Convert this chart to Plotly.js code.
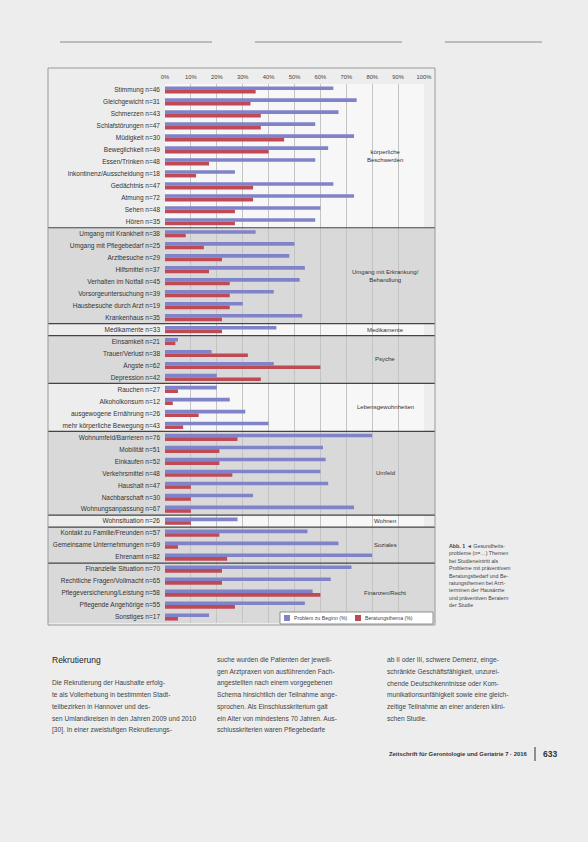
<!DOCTYPE html>
<html><head><meta charset="utf-8">
<script src="https://cdn.plot.ly/plotly-3.0.1.min.js"></script>
<style>html,body{margin:0;padding:0;background:#ededed;}#c{width:588px;height:842px;}</style>
</head><body><div id="c"></div>
<script>
// ---- data ----
const categories = [
 "Stimmung n=46","Gleichgewicht n=31","Schmerzen n=43","Schlafstörungen n=47","Müdigkeit n=30",
 "Beweglichkeit n=49","Essen/Trinken n=48","Inkontinenz/Ausscheidung n=18","Gedächtnis n=47","Atmung n=72",
 "Sehen n=48","Hören n=35",
 "Umgang mit Krankheit n=38","Umgang mit Pflegebedarf n=25","Arztbesuche n=29","Hilfsmittel n=37",
 "Verhalten im Notfall n=45","Vorsorgeuntersuchung n=39","Hausbesuche durch Arzt n=19","Krankenhaus n=35",
 "Medikamente n=33",
 "Einsamkeit n=21","Trauer/Verlust n=38","Ängste n=62","Depression n=42",
 "Rauchen n=27","Alkoholkonsum n=12","ausgewogene Ernährung n=26","mehr körperliche Bewegung n=43",
 "Wohnumfeld/Barrieren n=76","Mobilität n=51","Einkaufen n=52","Verkehrsmittel n=48","Haushalt n=47",
 "Nachbarschaft n=30","Wohnungsanpassung n=67",
 "Wohnsituation n=26",
 "Kontakt zu Familie/Freunden n=57","Gemeinsame Unternehmungen n=69","Ehrenamt n=82",
 "Finanzielle Situation n=70","Rechtliche Fragen/Vollmacht n=65","Pflegeversicherung/Leistung n=58",
 "Pflegende Angehörige n=55","Sonstiges n=17"
];
const problemPct = [65,74,67,58,73,63,58,27,65,73,60,58,
 35,50,48,54,52,42,30,53,
 43,
 5,18,42,20,
 20,25,31,40,
 80,61,62,60,63,34,73,
 28,
 55,67,80,
 72,64,57,54,17];
const beratungPct = [35,33,37,37,46,40,17,12,34,34,27,27,
 8,15,22,17,25,25,25,22,
 22,
 4,32,60,37,
 5,3,13,7,
 28,21,21,26,10,10,10,
 10,
 21,5,24,
 22,22,60,27,5];
const groupNames = ["körperliche<br>Beschwerden","Umgang mit Erkrankung/<br>Behandlung","Medikamente","Psyche",
 "Lebensgewohnheiten","Umfeld","Wohnen","Soziales","Finanzen/Recht"];
const groupSizes = [12,8,1,4,4,7,1,3,5];
const seriesNames = ["Problem zu Beginn (%)","Beratungsthema (%)"];
const xTickVals = [0,10,20,30,40,50,60,70,80,90,100];
const xTickText = ["0%","10%","20%","30%","40%","50%","60%","70%","80%","90%","100%"];

// ---- style ----
const shaded = [false,true,false,true,false,true,false,true,true];
const blue = "#8083c8", red = "#bf4a56";
const PL=165, PR=424, PT=84, PB=623;
const PX = x => (x-PL)/(PR-PL);
const PY = y => (PB-y)/(PB-PT);
const boxL = PX(48), boxR = PX(435);
const FONT = "Liberation Sans";

const traces = [
 {type:"bar",orientation:"h",name:seriesNames[0],y:categories,x:problemPct,marker:{color:blue},showlegend:false},
 {type:"bar",orientation:"h",name:seriesNames[1],y:categories,x:beratungPct,marker:{color:red},showlegend:false}
];

const shapes = [], annotations = [];
let s = 0;
groupSizes.forEach((n,g)=>{
  if (shaded[g]) shapes.push({type:"rect",xref:"paper",yref:"y",x0:boxL,x1:boxR,y0:s-0.5,y1:s+n-0.5,
     fillcolor:"#d9d9d9",line:{width:0},layer:"below"});
  if (s>0) shapes.push({type:"line",xref:"paper",yref:"y",x0:boxL,x1:boxR,y0:s-0.5,y1:s-0.5,
     line:{color:"#444",width:1.2},layer:"above"});
  annotations.push({xref:"x",yref:"y",x:85,y:s+(n-1)/2,text:groupNames[g],showarrow:false,
     font:{size:6,color:"#333",family:FONT},align:"center"});
  s += n;
});
// outer box
shapes.push({type:"rect",xref:"paper",yref:"paper",x0:boxL,x1:boxR,y0:PY(625),y1:PY(68),line:{color:"#999",width:1},fillcolor:"rgba(0,0,0,0)"});
// header rules
[[60,212],[255,402],[445,542]].forEach(([a,b])=>{
  shapes.push({type:"line",xref:"paper",yref:"paper",x0:PX(a),x1:PX(b),y0:PY(42),y1:PY(42),line:{color:"#888",width:1}});
});
// footer rule
shapes.push({type:"line",xref:"paper",yref:"paper",x0:PX(535),x1:PX(535),y0:PY(747),y1:PY(761),line:{color:"#333",width:1}});

// custom legend
shapes.push({type:"rect",xref:"paper",yref:"paper",x0:PX(280),x1:PX(433),y0:PY(624),y1:PY(612),line:{color:"#777",width:0.8},fillcolor:"#ffffff"});
shapes.push({type:"rect",xref:"paper",yref:"paper",x0:PX(284),x1:PX(290),y0:PY(621),y1:PY(615),line:{width:0},fillcolor:blue});
shapes.push({type:"rect",xref:"paper",yref:"paper",x0:PX(355),x1:PX(361),y0:PY(621),y1:PY(615),line:{width:0},fillcolor:red});

function txt(x,y,t,size,opts){
  annotations.push(Object.assign({xref:"paper",yref:"paper",x:PX(x),y:PY(y),text:t,showarrow:false,
    xanchor:"left",yanchor:"middle",align:"left",font:{size:size,color:"#444",family:FONT}},opts||{}));
}
function para(x,y0,lines,size,step,opts){
  lines.forEach((l,i)=>txt(x,y0+i*step,l,size,opts));
}
txt(292,618,seriesNames[0],5.2);
txt(363,618,seriesNames[1],5.2);

txt(50,660,"Rekrutierung",8.5,{font:{size:8.5,color:"#222",family:FONT}});
para(50,683,["Die Rekrutierung der Haushalte erfolg-","te als Vollerhebung in bestimmten Stadt-","teilbezirken in Hannover und des-","sen Umlandkreisen in den Jahren 2009 und 2010","[30]. In einer zweistufigen Rekrutierungs-"],6.6,11.7);
para(215,660,["suche wurden die Patienten der jeweili-","gen Arztpraxen von ausführenden Fach-","angestellten nach einem vorgegebenen","Schema hinsichtlich der Teilnahme ange-","sprochen. Als Einschlusskriterium galt","ein Alter von mindestens 70 Jahren. Aus-","schlusskriterien waren Pflegebedarfe"],6.6,11.7);
para(385,660,["ab II oder III, schwere Demenz, einge-","schränkte Geschäftsfähigkeit, unzurei-","chende Deutschkenntnisse oder Kom-","munikationsunfähigkeit sowie eine gleich-","zeitige Teilnahme an einer anderen klini-","schen Studie."],6.6,11.7);
para(447,546,["<b>Abb. 1</b> ◄ Gesundheits-","probleme (n=…) Themen","bei Studieneintritt als","Probleme mit präventivem","Beratungsbedarf und Be-","ratungsthemen bei Arzt-","terminen der Hausärzte","und präventiven Beratern","der Studie"],5.3,7.4);
txt(530,754,"<b>Zeitschrift für Gerontologie und Geriatrie 7 · 2016</b>",5.9,{xanchor:"right",align:"right",font:{size:5.9,color:"#333",family:FONT}});
txt(541,754,"<b>633</b>",8.5,{font:{size:8.5,color:"#333",family:FONT}});

const layout = {
  width:588,height:842,
  paper_bgcolor:"#ededed",plot_bgcolor:"#f7f7f7",
  margin:{l:PL,r:588-PR,t:PT,b:842-PB,pad:0},
  barmode:"group",bargap:0.4,bargroupgap:0,
  showlegend:false,
  xaxis:{side:"top",range:[0,100],tickmode:"array",tickvals:xTickVals,ticktext:xTickText,showgrid:true,gridcolor:"#c4c4c4",gridwidth:1,
    zeroline:false,showline:false,ticks:"",ticklabelstandoff:3,tickfont:{size:5.8,color:"#444",family:FONT},fixedrange:true},
  yaxis:{type:"category",autorange:"reversed",ticks:"",showgrid:false,zeroline:false,showline:false,
    tickfont:{size:6.5,color:"#333",family:FONT},ticklabelstandoff:4},
  shapes:shapes,annotations:annotations
};
Plotly.newPlot("c",traces,layout,{staticPlot:true,displayModeBar:false});
</script></body></html>
